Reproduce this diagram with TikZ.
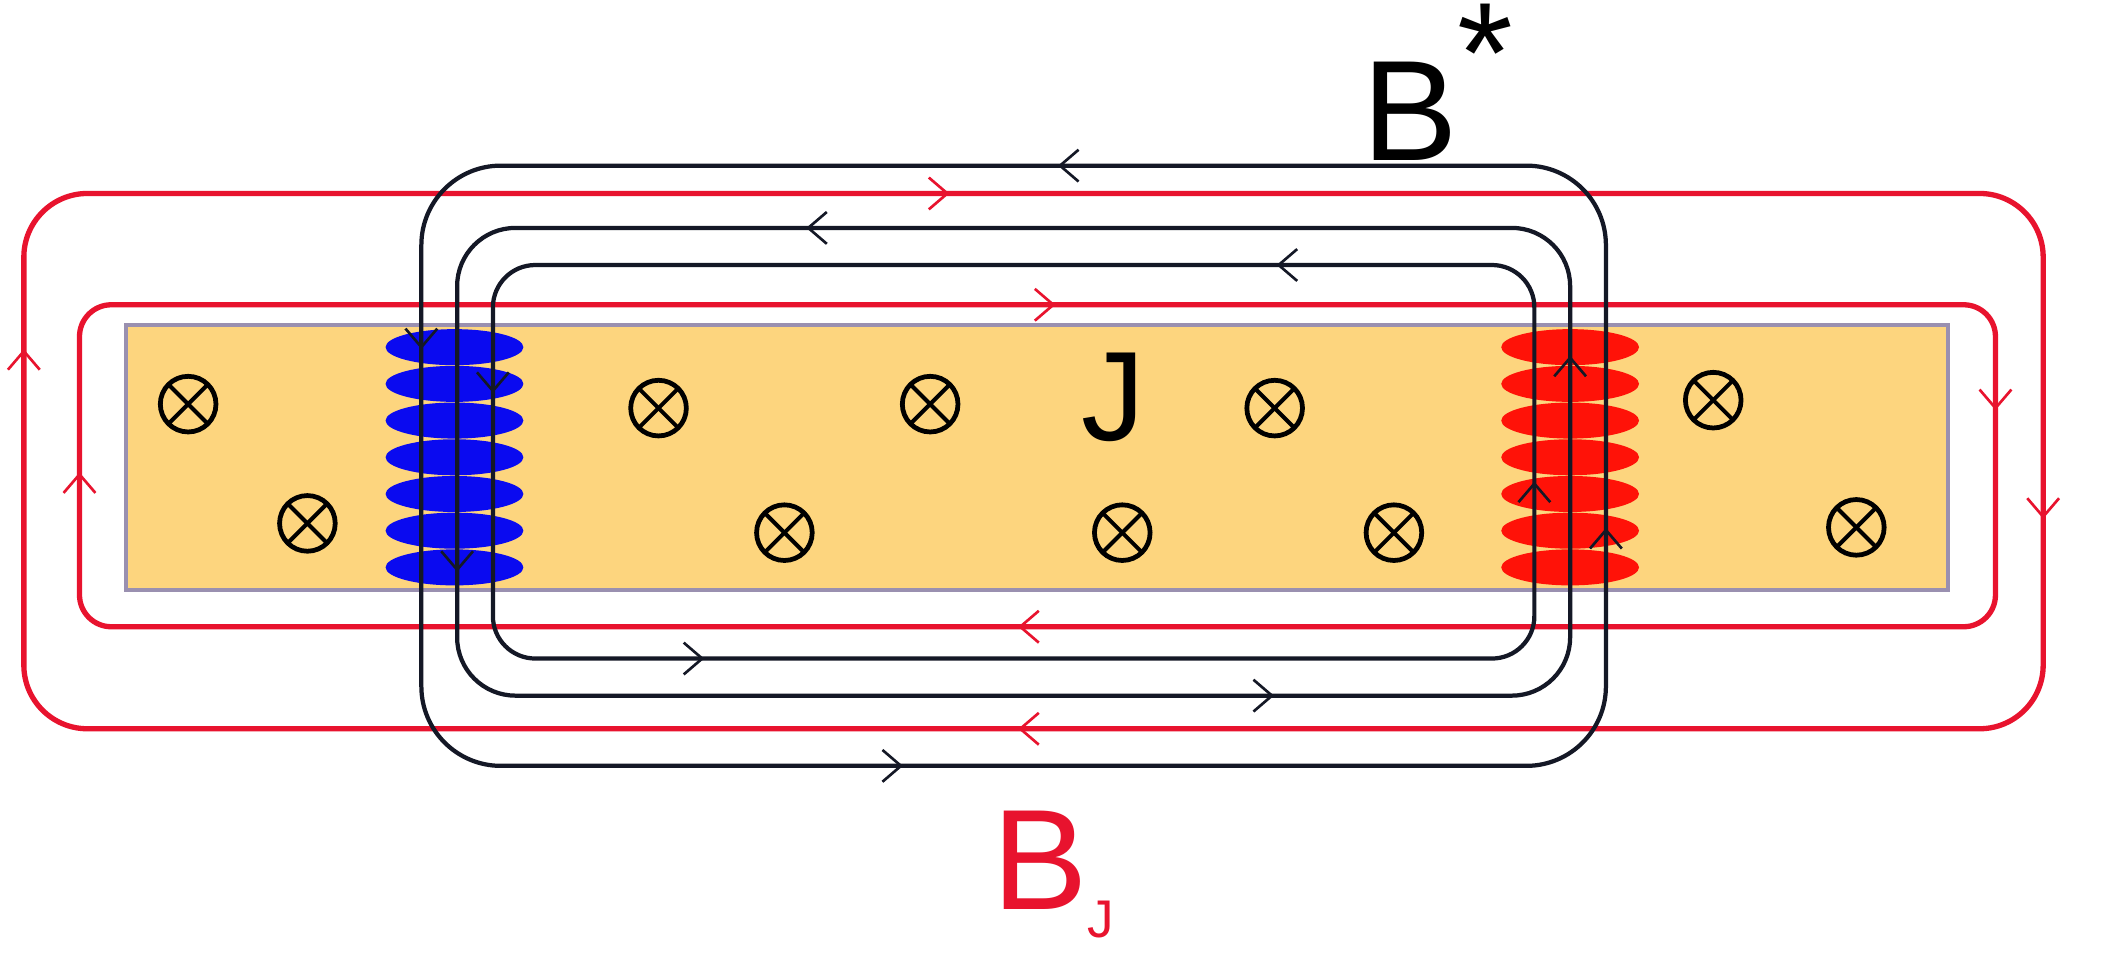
\documentclass[tikz,border=0pt]{standalone}
\usepackage{fontspec}
\setmainfont{Liberation Sans}
\definecolor{slab}{HTML}{FDD57E}
\definecolor{slabedge}{HTML}{9A90B0}
\definecolor{rl}{HTML}{E8132E}
\definecolor{bl}{HTML}{141826}
\definecolor{coilb}{HTML}{0A0AF0}
\definecolor{coilr}{HTML}{FF1208}
\tikzset{redloop/.style={draw=rl,line width=2pt},
 blackloop/.style={draw=bl,line width=1.6pt},
 otimes/.style={circle,draw=black,line width=1.8pt,minimum size=21pt,inner sep=0pt,
   path picture={\draw[line width=1.5pt] ([shift={(3pt,-3pt)}]path picture bounding box.north west) -- ([shift={(-3pt,3pt)}]path picture bounding box.south east);
   \draw[line width=1.5pt] ([shift={(-3pt,-3pt)}]path picture bounding box.north east) -- ([shift={(3pt,3pt)}]path picture bounding box.south west);}}}
\newcommand\chev[4]{\draw[#4,line width=1pt,shift={(#1,#2)},rotate=#3] (-7pt,6pt) -- (0,0) -- (-7pt,-6pt);}
\begin{document}
\begin{tikzpicture}[x=0.5pt,y=-0.5pt]
\useasboundingbox (0,0) rectangle (1600,719);
\fill[white] (0,0) rectangle (1600,719);
% slab
\draw[fill=slab,draw=slabedge,line width=1.5pt] (95,245) rectangle (1470,445);
% red loops
\draw[redloop,rounded corners=12pt] (60,230) rectangle (1506,473);
\draw[redloop,rounded corners=24pt] (18,146) rectangle (1542,550);
\chev{795}{230}{0}{rl} \chev{770}{473}{180}{rl} \chev{60}{358}{90}{rl} \chev{1506}{308}{-90}{rl}
\chev{715}{146}{0}{rl} \chev{770}{550}{180}{rl} \chev{18}{265}{90}{rl} \chev{1542}{390}{-90}{rl}
% coils
\foreach \i in {0,...,6}{
 \fill[coilb] (343,{262+27.7*\i}) ellipse [x radius=26pt,y radius=6.8pt];
 \fill[coilr] (1185,{262+27.7*\i}) ellipse [x radius=26pt,y radius=6.8pt];}
% black loops
\draw[blackloop,rounded corners=30pt] (318,125) rectangle (1212,578);
\draw[blackloop,rounded corners=22pt] (345,172) rectangle (1185,525);
\draw[blackloop,rounded corners=16pt] (372,200) rectangle (1158,497);
\chev{800}{125}{180}{bl} \chev{680}{578}{0}{bl}
\chev{610}{172}{180}{bl} \chev{960}{525}{0}{bl}
\chev{965}{200}{180}{bl} \chev{530}{497}{0}{bl}
\chev{318}{262}{-90}{bl} \chev{345}{430}{-90}{bl} \chev{372}{295}{-90}{bl}
\chev{1158}{365}{90}{bl} \chev{1185}{270}{90}{bl} \chev{1212}{400}{90}{bl}
% currents
\foreach \p [count=\k] in {(142,305),(232,395),(497,308),(592,402),(702,305),(847,402),(962,308),(1052,402),(1293,302),(1401,398)}
 \node[otimes] (o\k) at \p {};
% labels
\node[font=\fontsize{48}{48}\selectfont] (J) at (840,300) {J};
\node[font=\fontsize{54}{54}\selectfont] (Bs) at (1085,62) {B\raisebox{0.4em}{*}};
\node[font=\fontsize{54}{54}\selectfont,text=rl] (BJ) at (795,660) {B\raisebox{-0.2em}{\fontsize{20}{20}\selectfont J}};
\end{tikzpicture}
\end{document}
